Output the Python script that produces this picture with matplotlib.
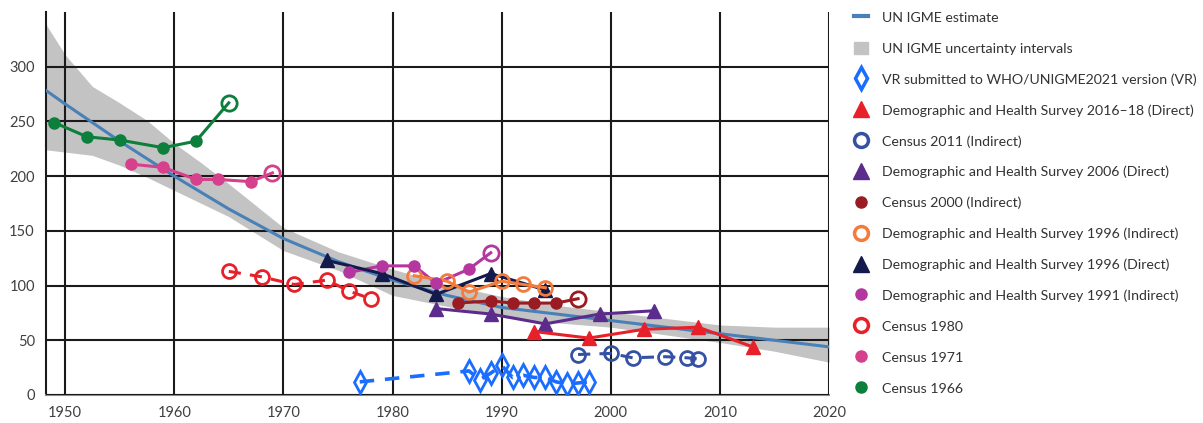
import matplotlib.pyplot as plt
from matplotlib.lines import Line2D
from matplotlib.patches import Patch

# UN IGME estimate and uncertainty band
est_years = [1948.3, 1950, 1952.5, 1955, 1957.5, 1960, 1962.5, 1965, 1970, 1975, 1980, 1985, 1990, 1995, 2000, 2005, 2010, 2015, 2020]
est_values = [278, 266, 249, 232, 216, 200, 185, 170, 143, 122, 105, 91, 80, 74, 68, 62, 56, 50, 44]
band_upper = [338, 311, 282, 267, 251, 230, 212, 193, 153, 131, 115, 101, 90, 82, 76, 70, 64, 62, 62]
band_lower = [224, 222, 219, 210, 199, 187, 175, 163, 132, 114, 91, 81, 71, 66, 62, 55, 48, 40, 30]

# data series
vr_years = [1977, 1987, 1988, 1989, 1990, 1991, 1992, 1993, 1994, 1995, 1996, 1997, 1998]
vr_values = [12, 22, 14, 20, 27, 16, 18, 16, 16, 12, 10, 11, 12]

dhs2016_years = [1993, 1998, 2003, 2008, 2013]
dhs2016_values = [58, 52, 60, 62, 44]

c2011_years = [1997, 2000, 2002, 2005, 2007, 2008]
c2011_values = [37, 38, 34, 35, 34, 33]

dhs2006_years = [1984, 1989, 1994, 1999, 2004]
dhs2006_values = [79, 74, 65, 74, 77]

c2000_years = [1986, 1989, 1991, 1993, 1995, 1997]
c2000_values = [84, 86, 84, 84, 84, 88]

dhs1996i_years = [1982, 1985, 1987, 1990, 1992, 1994]
dhs1996i_values = [109, 104, 94, 104, 101, 98]

dhs1996d_years = [1974, 1979, 1984, 1989, 1994]
dhs1996d_values = [123, 111, 92, 111, 96]

dhs1991_years = [1976, 1979, 1982, 1984, 1987, 1989]
dhs1991_values = [112, 118, 118, 102, 115, 130]

c1980_years = [1965, 1968, 1971, 1974, 1976, 1978]
c1980_values = [113, 108, 101, 105, 95, 88]

c1971_years = [1956, 1959, 1962, 1964, 1967, 1969]
c1971_values = [211, 208, 197, 197, 195, 203]

c1966_years = [1949, 1952, 1955, 1959, 1962, 1965]
c1966_values = [249, 236, 233, 226, 232, 267]

c_est = '#4a80b8'
c_band = '#c3c3c3'
c_vr = '#1a6dff'
c_dhs2016 = '#e8202a'
c_c2011 = '#3551a4'
c_dhs2006 = '#5b2c8c'
c_c2000 = '#9b1b22'
c_dhs1996i = '#f47b3c'
c_dhs1996d = '#141a4c'
c_dhs1991 = '#b5369f'
c_c1980 = '#e8202a'
c_c1971 = '#d6408c'
c_c1966 = '#0b7f3b'

plt.rcParams['font.family'] = ['Lato', 'DejaVu Sans']

fig = plt.figure(figsize=(12.03, 4.23), dpi=100)
ax = fig.add_axes([0.0382, 0.0662, 0.6510, 0.9054])

ax.fill_between(est_years, band_lower, band_upper, color=c_band, lw=0, zorder=1)
ax.plot(est_years, est_values, color=c_est, lw=2.2, zorder=3)

lw = 2.2


def series(x, y, color, marker, ms, open_last=False, open_all=False, ls='-'):
    if open_all:
        ax.plot(x, y, color=color, lw=lw, ls=ls, marker=marker, ms=ms,
                mfc='none', mec=color, mew=2, zorder=4)
    elif open_last:
        ax.plot(x, y, color=color, lw=lw, ls=ls, zorder=4)
        ax.plot(x[:-1], y[:-1], ls='none', marker=marker, ms=ms, color=color, zorder=5)
        ax.plot(x[-1:], y[-1:], ls='none', marker=marker, ms=ms + 3, mfc='none',
                mec=color, mew=2, zorder=5)
    else:
        ax.plot(x, y, color=color, lw=lw, ls=ls, marker=marker, ms=ms, zorder=4)


series(c1966_years, c1966_values, c_c1966, 'o', 8, open_last=True)
series(c1971_years, c1971_values, c_c1971, 'o', 8, open_last=True)
series(c1980_years, c1980_values, c_c1980, 'o', 10, open_all=True, ls=(0, (4, 3)))
series(dhs1991_years, dhs1991_values, c_dhs1991, 'o', 8, open_last=True)
series(dhs1996d_years, dhs1996d_values, c_dhs1996d, '^', 10)
series(dhs1996i_years, dhs1996i_values, c_dhs1996i, 'o', 10, open_all=True)
series(c2000_years, c2000_values, c_c2000, 'o', 8, open_last=True)
series(dhs2006_years, dhs2006_values, c_dhs2006, '^', 10)
series(c2011_years, c2011_values, c_c2011, 'o', 10, open_all=True, ls=(0, (4, 3)))
series(dhs2016_years, dhs2016_values, c_dhs2016, '^', 10)
ax.plot(vr_years, vr_values, color=c_vr, lw=2.6, ls=(0, (4, 3)), marker='d', ms=11,
        mfc='none', mec=c_vr, mew=2, zorder=4)

ax.set_xlim(1948.25, 2020)
ax.set_ylim(0, 350)
ax.set_xticks(range(1950, 2021, 10))
ax.set_yticks(range(0, 301, 50))
ax.set_axisbelow(False)
ax.grid(True, color='#1a1a1a', lw=1.5, zorder=2.5)
ax.tick_params(length=0, labelsize=10.5, labelcolor='#404040', pad=8)
for s in ['top', 'right']:
    ax.spines[s].set_visible(False)
ax.spines['left'].set_color('#1a1a1a')
ax.spines['left'].set_linewidth(1.5)
ax.spines['bottom'].set_color('#8a8a8a')
ax.spines['bottom'].set_linewidth(1.5)

handles = [
    Line2D([], [], color=c_est, lw=3),
    Patch(color=c_band),
    Line2D([], [], ls='none', marker='d', ms=11, mfc='none', mec=c_vr, mew=2.5),
    Line2D([], [], ls='none', marker='^', ms=11, color=c_dhs2016),
    Line2D([], [], ls='none', marker='o', ms=10, mfc='none', mec=c_c2011, mew=2.5),
    Line2D([], [], ls='none', marker='^', ms=11, color=c_dhs2006),
    Line2D([], [], ls='none', marker='o', ms=8, color=c_c2000),
    Line2D([], [], ls='none', marker='o', ms=10, mfc='none', mec=c_dhs1996i, mew=2.5),
    Line2D([], [], ls='none', marker='^', ms=11, color=c_dhs1996d),
    Line2D([], [], ls='none', marker='o', ms=8, color=c_dhs1991),
    Line2D([], [], ls='none', marker='o', ms=10, mfc='none', mec=c_c1980, mew=2.5),
    Line2D([], [], ls='none', marker='o', ms=8, color=c_c1971),
    Line2D([], [], ls='none', marker='o', ms=8, color=c_c1966),
]
labels = [
    'UN IGME estimate',
    'UN IGME uncertainty intervals',
    'VR submitted to WHO/UNIGME2021 version (VR)',
    'Demographic and Health Survey 2016–18 (Direct)',
    'Census 2011 (Indirect)',
    'Demographic and Health Survey 2006 (Direct)',
    'Census 2000 (Indirect)',
    'Demographic and Health Survey 1996 (Indirect)',
    'Demographic and Health Survey 1996 (Direct)',
    'Demographic and Health Survey 1991 (Indirect)',
    'Census 1980',
    'Census 1971',
    'Census 1966',
]
leg = fig.legend(handles, labels, loc='upper left', bbox_to_anchor=(0.705, 0.988),
                 frameon=False, fontsize=10.2, handlelength=1.0, handleheight=1.0,
                 handletextpad=1.0, labelspacing=1.25, borderaxespad=0)
for t in leg.get_texts():
    t.set_color('#333333')

fig.savefig('out.png', dpi=100)
